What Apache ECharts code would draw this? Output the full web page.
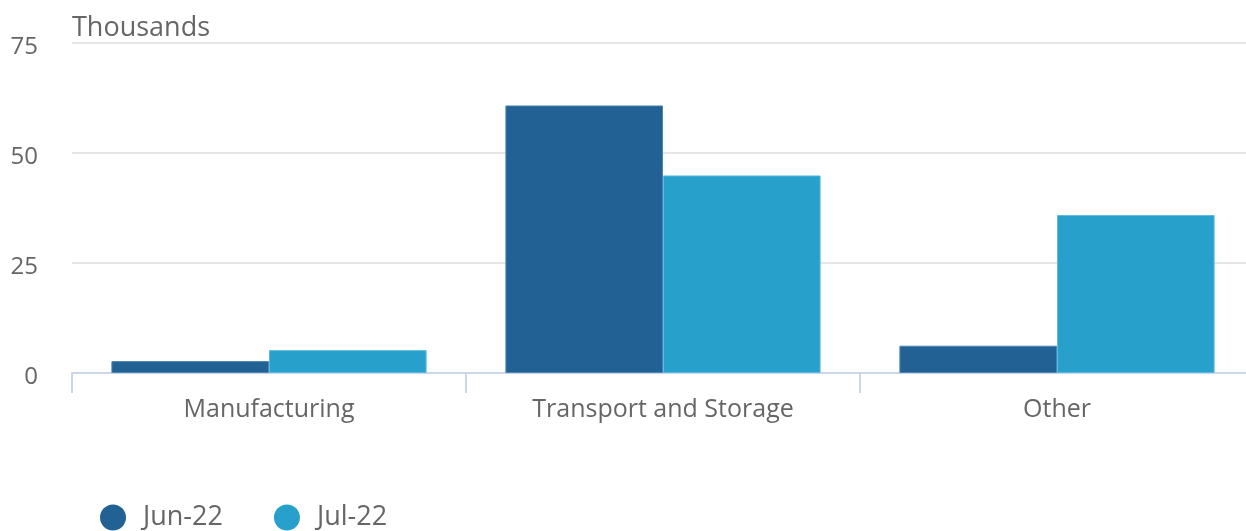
<!DOCTYPE html>
<html><head><meta charset="utf-8">
<script src="https://cdn.jsdelivr.net/npm/echarts@6/dist/echarts.min.js"></script>
<style>html,body{margin:0;padding:0;background:#fff}#c{width:1246px;height:531px}</style>
</head><body><div id="c"></div>
<script>
const categories = ['Manufacturing', 'Transport and Storage', 'Other'];
const jun22 = [2.7, 60.8, 6.2];
const jul22 = [5.2, 44.9, 35.9];
const yTicks = [0, 25, 50, 75];
const seriesNames = ['Jun-22', 'Jul-22'];

const chart = echarts.init(document.getElementById('c'), null, {renderer: 'canvas'});
const font = '"Open Sans", sans-serif';
chart.setOption({
  animation: false,
  textStyle: {fontFamily: font},
  title: {text: 'Thousands', left: 72, top: 15, padding: [0, 0, 0, 0], textStyle: {fontFamily: font, fontSize: 27, fontWeight: 'normal', color: '#666'}},
  legend: {
    left: 100, top: 504, itemWidth: 26, itemHeight: 26, itemGap: 51, icon: 'circle', padding: 0,
    itemStyle: {borderWidth: 0},
    textStyle: {fontFamily: font, fontSize: 27, color: '#666', padding: [0, 0, 0, 12]},
    data: seriesNames
  },
  grid: {left: 72, width: 1182, top: 43, bottom: 158, outerBoundsMode: 'none', containLabel: false},
  xAxis: {
    type: 'category', data: categories,
    axisLine: {lineStyle: {color: '#ccd6eb', width: 2}},
    axisTick: {show: true, length: 20, lineStyle: {color: '#ccd6eb', width: 2}},
    axisLabel: {fontFamily: font, fontSize: 25, color: '#666', margin: 24}
  },
  yAxis: {
    type: 'value', min: yTicks[0], max: yTicks[yTicks.length - 1], interval: 25,
    axisLine: {show: false}, axisTick: {show: false},
    splitLine: {lineStyle: {color: '#e6e6e6', width: 2}},
    axisLabel: {fontFamily: font, fontSize: 24, color: '#666', margin: 34, verticalAlign: 'top', lineHeight: 8}
  },
  series: [
    {name: seriesNames[0], type: 'bar', data: jun22, barGap: '0%', barCategoryGap: '20%',
     itemStyle: {color: '#216194', borderColor: '#4a84b0', borderWidth: 1}},
    {name: seriesNames[1], type: 'bar', data: jul22,
     itemStyle: {color: '#27a0cc', borderColor: '#5bbbe0', borderWidth: 1}}
  ]
});
</script></body></html>
